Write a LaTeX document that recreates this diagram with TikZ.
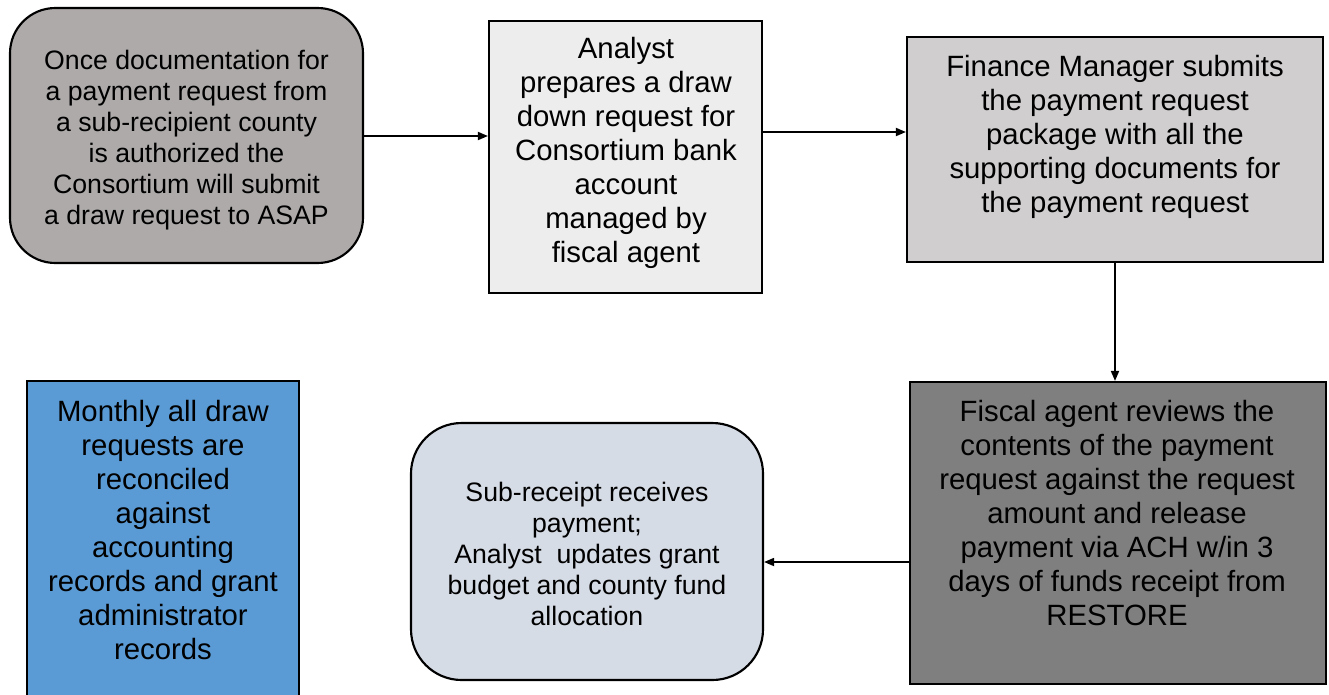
\documentclass[tikz,border=0pt]{standalone}
\usepackage{fontspec}
\setmainfont{Liberation Sans}
\usetikzlibrary{arrows.meta,fit,calc}
\definecolor{cA}{HTML}{AEAAAA}
\definecolor{cB}{HTML}{EDEDED}
\definecolor{cC}{HTML}{D0CECE}
\definecolor{cD}{HTML}{7F7F7F}
\definecolor{cE}{HTML}{D6DCE5}
\definecolor{cF}{HTML}{5B9BD5}
\begin{document}
\begin{tikzpicture}[x=0.75pt,y=-0.75pt,
  box/.style={draw=black, line width=1.6pt, inner sep=0pt},
  rbox/.style={box, rounded corners=34pt},
  txt/.style={align=center, inner sep=0pt, text=black},
  big/.style={font=\fontsize{22}{25.5}\selectfont},
  small/.style={font=\fontsize{20}{23.25}\selectfont},
  conn/.style={line width=1.3pt, -{Triangle[length=7.5pt,width=6pt]}}]
\clip (0,0) rectangle (1329,694);
\useasboundingbox (0,0) rectangle (1329,694);
% boxes
\node[rbox, fill=cA, fit={(10,8) (363,263)}] (b1) {};
\node[box, fill=cB, fit={(489,21) (762,293)}] (b2) {};
\node[box, fill=cC, fit={(907,37) (1323,262)}] (b3) {};
\node[box, fill=cD, fit={(910,382) (1326,684)}] (b4) {};
\node[rbox, fill=cE, rounded corners=38pt, fit={(411,423) (763,680)}] (b5) {};
\node[box, fill=cF, fit={(27,381) (299,700)}] (b6) {};
% texts
\node[txt, small] (t1) at (186.5,140) {Once documentation for\\a payment request from\\a sub-recipient county\\is authorized the\\Consortium will submit\\a draw request to ASAP};
\node[txt, big] (t2) at (626,152.5) {Analyst\\prepares a draw\\down request for\\Consortium bank\\account\\managed by\\fiscal agent};
\node[txt, big] (t3) at (1115,136.5) {Finance Manager submits\\the payment request\\package with all the\\supporting documents for\\the payment request};
\node[txt, big] (t4) at (1117,513.5) {Fiscal agent reviews the\\contents of the payment\\request against the request\\amount and release\\payment via ACH w/in 3\\days of funds receipt from\\RESTORE};
\node[txt, small] (t5) at (587,553.5) {Sub-receipt receives\\payment;\\Analyst~ updates grant\\budget and county fund\\allocation};
\node[txt, big] (t6) at (163,530.5) {Monthly all draw\\requests are\\reconciled\\against\\accounting\\records and grant\\administrator\\records};
% connectors
\coordinate (y1) at (0,136);
\coordinate (y2) at (0,132);
\coordinate (y4) at (0,562);
\draw[conn] (b1.east |- y1) -- (b2.west |- y1);
\draw[conn] (b2.east |- y2) -- (b3.west |- y2);
\draw[conn] (b3.south) -- (b3.south |- b4.north);
\draw[conn] (b4.west |- y4) -- (b5.east |- y4);
\end{tikzpicture}
\end{document}
